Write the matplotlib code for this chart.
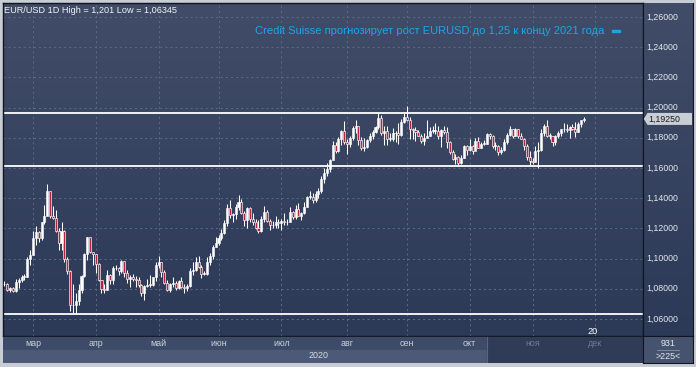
import numpy as np
import matplotlib.pyplot as plt
from matplotlib.colors import LinearSegmentedColormap
from matplotlib.patches import Polygon, Rectangle

W, H = 696, 367

# EUR/USD daily, 17 Feb 2020 .. 26 Nov 2020 (trading-day index 0..203)
first_open = 1.0830
closes = [
    1.0835, 1.0790, 1.0805, 1.0785, 1.0845, 1.0855, 1.0880, 1.0880, 1.0995, 1.1025,
    1.1135, 1.1175, 1.1135, 1.1240, 1.1285, 1.1450, 1.1285, 1.1270, 1.1180, 1.1105,
    1.1180, 1.0995, 1.0915, 1.0690, 1.0695, 1.0720, 1.0790, 1.0885, 1.1030, 1.1140,
    1.1045, 1.1030, 1.0965, 1.0855, 1.0800, 1.0795, 1.0890, 1.0860, 1.0935, 1.0940,
    1.0915, 1.0985, 1.0905, 1.0865, 1.0875, 1.0865, 1.0855, 1.0825, 1.0775, 1.0820,
    1.0825, 1.0825, 1.0875, 1.0955, 1.0980, 1.0910, 1.0840, 1.0795, 1.0830, 1.0840,
    1.0805, 1.0850, 1.0815, 1.0805, 1.0820, 1.0915, 1.0925, 1.0975, 1.0945, 1.0900,
    1.0900, 1.0980, 1.1015, 1.1075, 1.1100, 1.1135, 1.1170, 1.1235, 1.1335, 1.1290,
    1.1295, 1.1340, 1.1375, 1.1300, 1.1255, 1.1335, 1.1265, 1.1245, 1.1205, 1.1180,
    1.1260, 1.1310, 1.1250, 1.1220, 1.1220, 1.1245, 1.1235, 1.1250, 1.1240, 1.1245,
    1.1310, 1.1275, 1.1330, 1.1285, 1.1300, 1.1345, 1.1410, 1.1410, 1.1385, 1.1430,
    1.1445, 1.1530, 1.1570, 1.1595, 1.1655, 1.1750, 1.1715, 1.1790, 1.1845, 1.1775,
    1.1760, 1.1800, 1.1865, 1.1875, 1.1785, 1.1735, 1.1740, 1.1785, 1.1815, 1.1840,
    1.1870, 1.1930, 1.1835, 1.1845, 1.1795, 1.1795, 1.1835, 1.1830, 1.1820, 1.1905,
    1.1935, 1.1915, 1.1855, 1.1850, 1.1840, 1.1815, 1.1780, 1.1800, 1.1815, 1.1845,
    1.1845, 1.1845, 1.1815, 1.1850, 1.1840, 1.1770, 1.1705, 1.1660, 1.1670, 1.1630,
    1.1665, 1.1745, 1.1720, 1.1745, 1.1715, 1.1780, 1.1735, 1.1760, 1.1760, 1.1825,
    1.1815, 1.1745, 1.1745, 1.1705, 1.1720, 1.1770, 1.1820, 1.1860, 1.1815, 1.1860,
    1.1810, 1.1795, 1.1745, 1.1675, 1.1645, 1.1640, 1.1715, 1.1720, 1.1830, 1.1875,
    1.1815, 1.1815, 1.1775, 1.1810, 1.1835, 1.1855, 1.1860, 1.1850, 1.1870, 1.1860,
    1.1840, 1.1890, 1.1915, 1.1925,
]
highs = [
    1.0850, 1.0840, 1.0815, 1.0815, 1.0863, 1.0870, 1.0890, 1.0895, 1.1010, 1.1055,
    1.1185, 1.1215, 1.1180, 1.1245, 1.1355, 1.1496, 1.1450, 1.1350, 1.1320, 1.1205,
    1.1240, 1.1190, 1.1010, 1.0925, 1.0830, 1.0770, 1.0830, 1.0890, 1.1040, 1.1145,
    1.1145, 1.1045, 1.1030, 1.0970, 1.0860, 1.0830, 1.0925, 1.0895, 1.0950, 1.0955,
    1.0945, 1.0990, 1.0985, 1.0925, 1.0890, 1.0895, 1.0885, 1.0875, 1.0835, 1.0825,
    1.0865, 1.0890, 1.0880, 1.0975, 1.1019, 1.0975, 1.0925, 1.0860, 1.0840, 1.0875,
    1.0850, 1.0860, 1.0880, 1.0830, 1.0835, 1.0935, 1.0975, 1.1008, 1.1020, 1.0955,
    1.0915, 1.1010, 1.1035, 1.1090, 1.1145, 1.1155, 1.1195, 1.1255, 1.1360, 1.1385,
    1.1305, 1.1360, 1.1422, 1.1395, 1.1315, 1.1340, 1.1345, 1.1300, 1.1260, 1.1255,
    1.1280, 1.1349, 1.1320, 1.1265, 1.1250, 1.1285, 1.1265, 1.1265, 1.1305, 1.1265,
    1.1345, 1.1315, 1.1355, 1.1370, 1.1310, 1.1375, 1.1415, 1.1450, 1.1435, 1.1445,
    1.1470, 1.1545, 1.1600, 1.1630, 1.1660, 1.1780, 1.1770, 1.1805, 1.1850, 1.1909,
    1.1790, 1.1815, 1.1880, 1.1916, 1.1880, 1.1805, 1.1800, 1.1790, 1.1830, 1.1850,
    1.1880, 1.1966, 1.1950, 1.1880, 1.1880, 1.1835, 1.1865, 1.1845, 1.1900, 1.1925,
    1.1965, 1.2011, 1.1935, 1.1865, 1.1870, 1.1850, 1.1825, 1.1830, 1.1917, 1.1870,
    1.1880, 1.1900, 1.1880, 1.1855, 1.1880, 1.1870, 1.1780, 1.1720, 1.1690, 1.1680,
    1.1685, 1.1755, 1.1755, 1.1790, 1.1755, 1.1800, 1.1805, 1.1775, 1.1785, 1.1831,
    1.1830, 1.1820, 1.1775, 1.1755, 1.1740, 1.1795, 1.1830, 1.1880, 1.1860, 1.1865,
    1.1860, 1.1830, 1.1800, 1.1760, 1.1710, 1.1665, 1.1745, 1.1770, 1.1860, 1.1890,
    1.1920, 1.1835, 1.1815, 1.1820, 1.1845, 1.1860, 1.1895, 1.1890, 1.1875, 1.1890,
    1.1905, 1.1905, 1.1920, 1.1940,
]
lows = [
    1.0820, 1.0785, 1.0780, 1.0778, 1.0780, 1.0805, 1.0845, 1.0855, 1.0875, 1.0960,
    1.1025, 1.1090, 1.1110, 1.1120, 1.1230, 1.1350, 1.1270, 1.1265, 1.1175, 1.1055,
    1.1055, 1.0975, 1.0900, 1.0655, 1.0640, 1.06345, 1.0690, 1.0775, 1.0875, 1.0990,
    1.1040, 1.0960, 1.0905, 1.0850, 1.0775, 1.0770, 1.0790, 1.0830, 1.0830, 1.0925,
    1.0890, 1.0905, 1.0880, 1.0840, 1.0815, 1.0850, 1.0815, 1.0815, 1.0755, 1.0727,
    1.0815, 1.0810, 1.0820, 1.0850, 1.0935, 1.0880, 1.0835, 1.0785, 1.0780, 1.0810,
    1.0795, 1.0800, 1.0805, 1.0775, 1.0785, 1.0810, 1.0890, 1.0920, 1.0935, 1.0870,
    1.0890, 1.0890, 1.0960, 1.0995, 1.1075, 1.1090, 1.1120, 1.1165, 1.1215, 1.1270,
    1.1245, 1.1265, 1.1325, 1.1295, 1.1215, 1.1205, 1.1245, 1.1220, 1.1195, 1.1168,
    1.1175, 1.1245, 1.1245, 1.1190, 1.1200, 1.1205, 1.1200, 1.1190, 1.1225, 1.1220,
    1.1250, 1.1260, 1.1265, 1.1280, 1.1255, 1.1295, 1.1340, 1.1395, 1.1370, 1.1375,
    1.1400, 1.1435, 1.1500, 1.1545, 1.1575, 1.1655, 1.1700, 1.1705, 1.1755, 1.1760,
    1.1695, 1.1740, 1.1785, 1.1835, 1.1755, 1.1720, 1.1711, 1.1730, 1.1770, 1.1790,
    1.1830, 1.1860, 1.1820, 1.1755, 1.1755, 1.1780, 1.1780, 1.1770, 1.1760, 1.1810,
    1.1900, 1.1910, 1.1790, 1.1790, 1.1780, 1.1810, 1.1765, 1.1755, 1.1805, 1.1810,
    1.1835, 1.1825, 1.1790, 1.1737, 1.1825, 1.1730, 1.1690, 1.1650, 1.1625, 1.1612,
    1.1625, 1.1665, 1.1685, 1.1710, 1.1695, 1.1720, 1.1730, 1.1735, 1.1750, 1.1760,
    1.1790, 1.1730, 1.1720, 1.1689, 1.1695, 1.1710, 1.1760, 1.1815, 1.1800, 1.1810,
    1.1800, 1.1790, 1.1720, 1.1650, 1.1620, 1.1625, 1.1645, 1.1603, 1.1710, 1.1810,
    1.1805, 1.1790, 1.1745, 1.1755, 1.1800, 1.1815, 1.1840, 1.1840, 1.1800, 1.1850,
    1.1805, 1.1840, 1.1870, 1.1905,
]

months = ["мар", "апр", "май", "июн", "июл", "авг", "сен", "окт", "ноя", "дек"]
month_start = [10, 32, 54, 75, 97, 120, 141, 163, 185, 207]
y_ticks = [1.06, 1.08, 1.10, 1.12, 1.14, 1.16, 1.18, 1.20, 1.22, 1.24, 1.26]
level_lines = [1.1962, 1.1611, 1.06345]
last_price = 1.19250

title = "EUR/USD 1D High = 1,201 Low = 1,06345"
note = "Credit Suisse прогнозирует рост EURUSD до 1,25 к концу 2021 года"

XMIN, XMAX = -0.5, 223.7
YMIN, YMAX = 1.04874, 1.26927

plt.rcParams["font.family"] = ["Liberation Sans", "DejaVu Sans"]

bg_cmap = LinearSegmentedColormap.from_list("bg", ["#414d68", "#2c3957"])
grad = np.linspace(0, 1, 256).reshape(-1, 1)


def px_axes(fig, x0, y0, x1, y1):
    ax = fig.add_axes([x0 / W, 1 - y1 / H, (x1 - x0) / W, (y1 - y0) / H])
    ax.set_xticks([])
    ax.set_yticks([])
    return ax


fig = plt.figure(figsize=(W / 100, H / 100), dpi=100, facecolor="#c8ccd4")

# ---------- main price panel ----------
ax = px_axes(fig, 3, 3, 643, 336)
ax.set_xlim(XMIN, XMAX)
ax.set_ylim(YMIN, YMAX)
ax.imshow(grad, cmap=bg_cmap, extent=[XMIN, XMAX, YMIN, YMAX], aspect="auto", zorder=0)
for s in ax.spines.values():
    s.set_color("#10151f")
    s.set_linewidth(1.0)

for v in y_ticks:
    ax.axhline(v, color="#5b6884", lw=0.7, ls=(0, (2.2, 3)), zorder=1)
for m in month_start:
    ax.axvline(m, color="#5b6884", lw=0.7, ls=(0, (2.2, 3)), zorder=1)

for v in level_lines:
    ax.axhline(v, color="white", lw=1.3, zorder=2)

x = np.arange(len(closes))
opens = np.array([first_open] + closes[:-1])
c = np.array(closes)
up = c >= opens
ax.vlines(x, lows, highs, color="white", lw=0.75, zorder=3)
body_lo = np.minimum(opens, c)
body_h = np.maximum(np.abs(c - opens), 0.0004)
ax.bar(x[up], body_h[up], bottom=body_lo[up], width=0.72, color="white",
       edgecolor="white", lw=0.4, zorder=4)
ax.bar(x[~up], body_h[~up], bottom=body_lo[~up], width=0.72, color="#b3243f",
       edgecolor="white", lw=0.45, zorder=4)

ax.text(0.002, 0.978, title, transform=ax.transAxes, color="#f2f2f2",
        fontsize=6.55, ha="left", va="center", zorder=6)
ax.text(252 / 640, 0.917, note, transform=ax.transAxes, color="#1ea4e6",
        fontsize=8.0, ha="left", va="center", zorder=6)
ax.add_patch(Rectangle((609 / 640, 0.913), 8 / 640, 2.2 / 333,
                       transform=ax.transAxes, color="#1ea4e6", zorder=6))

ax.text(206.1, 1.0514, "20", color="white", fontsize=6.6, ha="center",
        va="center", zorder=6)

# ---------- right price scale ----------
axr = px_axes(fig, 643, 3, 693, 336)
axr.set_xlim(0, 50)
axr.set_ylim(YMIN, YMAX)
axr.imshow(grad, cmap=bg_cmap, extent=[0, 50, YMIN, YMAX], aspect="auto", zorder=0)
for s in axr.spines.values():
    s.set_color("#10151f")
axr.spines["top"].set_visible(False)
for v in y_ticks:
    axr.text(3, v, f"{v:.5f}".replace(".", ","), color="#e4e8ee",
             fontsize=6.3, ha="left", va="center")
h = 6 / 1510
axr.add_patch(Polygon([(0.8, last_price), (4.5, last_price + h), (49, last_price + h),
                       (49, last_price - h), (4.5, last_price - h)],
                      closed=True, facecolor="#c9cdd5", edgecolor="none", zorder=5))
axr.text(5, last_price, f"{last_price:.5f}".replace(".", ","), color="#1b1b1b",
         fontsize=6.3, ha="left", va="center", zorder=6)

# ---------- time scale ----------
axb = px_axes(fig, 3, 336, 643, 363)
axb.set_xlim(XMIN, XMAX)
axb.set_ylim(27, 0)
for s in axb.spines.values():
    s.set_visible(False)
axb.add_patch(Rectangle((XMIN, 0), XMAX - XMIN, 14, color="#3e4b68", zorder=0))
axb.add_patch(Rectangle((XMIN, 14), XMAX - XMIN, 13, color="#4c5a77", zorder=0))
dark_start = 169.0
axb.add_patch(Rectangle((dark_start, 0), XMAX - dark_start, 27, color="#2f3b57", zorder=1))
axb.axvline(dark_start, color="#5a6680", lw=0.8, zorder=2)
axb.axhline(0.3, color="#10151f", lw=1.2, zorder=3)
for m, lab in zip(month_start, months):
    col = "#c9d0dc" if m < dark_start else "#6f7a92"
    axb.text(m, 7.5, lab, color=col, fontsize=6.4, ha="center", va="center", zorder=4)
axb.text(110, 20, "2020", color="#d6dce6", fontsize=6.4, ha="center", va="center", zorder=4)

# ---------- corner box ----------
axc = px_axes(fig, 643, 336, 693, 363)
axc.set_xlim(0, 50)
axc.set_ylim(27, 0)
axc.set_facecolor("#46536f")
for s in axc.spines.values():
    s.set_color("#10151f")
axc.text(25, 8, "931", color="#e4e8ee", fontsize=6.4, ha="center", va="center")
axc.plot([14, 36], [14, 14], color="#8a94a8", lw=0.6)
axc.text(25, 20.5, ">225<", color="#e4e8ee", fontsize=6.4, ha="center", va="center")

fig.savefig("out.png", dpi=100, facecolor=fig.get_facecolor())
